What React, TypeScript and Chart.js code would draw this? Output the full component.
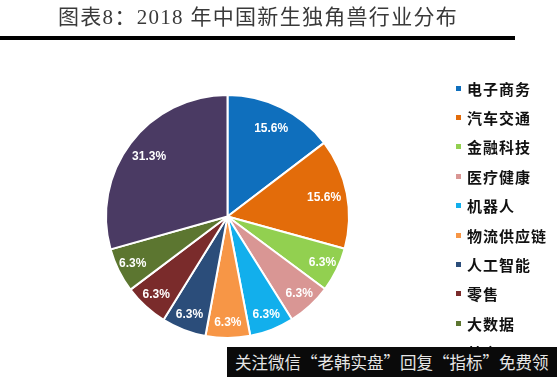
import React, { useEffect, useRef } from "react";
import { Chart, registerables } from "chart.js";

Chart.register(...registerables);

const TITLE = "图表8：2018 年中国新生独角兽行业分布";
const WATERMARK = "关注微信“老韩实盘”回复“指标”免费领";
const categories = ["电子商务", "汽车交通", "金融科技", "医疗健康", "机器人", "物流供应链", "人工智能", "零售", "大数据", "其它"];
const shares = [15.6, 15.6, 6.3, 6.3, 6.3, 6.3, 6.3, 6.3, 6.3, 31.3];
const colors = ["#0F6FBD", "#E36C0A", "#92D050", "#D99694", "#12AFEC", "#F79646", "#2B4D7A", "#7A2B2B", "#5C7630", "#4A3A63"];

const labelPlugin = {
  id: "sliceLabels",
  afterDatasetsDraw(chart: any) {
    const ctx = chart.ctx;
    const meta = chart.getDatasetMeta(0);
    const data = chart.data.datasets[0].data as number[];
    ctx.save();
    ctx.fillStyle = "#ffffff";
    ctx.font = "bold 12px 'Liberation Sans', Arial, sans-serif";
    ctx.textAlign = "center";
    ctx.textBaseline = "middle";
    meta.data.forEach((arc: any, i: number) => {
      const p = arc.getProps(["x", "y", "startAngle", "endAngle", "outerRadius"], true);
      const mid = (p.startAngle + p.endAngle) / 2;
      const frac = data[i] > 10 ? 0.81 : 0.87;
      const r = p.outerRadius * frac;
      const x = p.x + Math.cos(mid) * r;
      const y = p.y + Math.sin(mid) * r;
      ctx.fillText(data[i].toFixed(1) + "%", x, y);
    });
    ctx.restore();
  },
};

export default function App() {
  const ref = useRef<HTMLCanvasElement>(null);
  useEffect(() => {
    document.body.style.margin = "0";
    document.body.style.background = "#ffffff";
    const chart = new Chart(ref.current!, {
      type: "pie",
      data: {
        labels: categories,
        datasets: [
          {
            data: shares,
            backgroundColor: colors,
            borderColor: "#ffffff",
            borderWidth: 2,
          },
        ],
      },
      options: {
        responsive: false,
        animation: false,
        events: [],
        layout: { padding: { left: 105, top: 93, right: 207, bottom: 37 } },
        plugins: {
          legend: { display: false },
          tooltip: { enabled: false },
          title: { display: false },
        },
      },
      plugins: [labelPlugin],
    });
    return () => chart.destroy();
  }, []);

  return (
    <div style={{ position: "relative", width: 557, height: 377, overflow: "hidden", background: "#fff" }}>
      <canvas ref={ref} width={557} height={377} style={{ position: "absolute", left: 0, top: 0, width: 557, height: 377 }} />
      <div
        style={{
          position: "absolute",
          left: 58,
          top: 4,
          width: 400,
          fontFamily: "'Liberation Serif', 'Noto Sans CJK SC', serif",
          fontSize: 21,
          lineHeight: "26px",
          color: "#3a3a3a",
          whiteSpace: "nowrap",
          letterSpacing: 1.3,
        }}
      >
        {TITLE}
      </div>
      <div style={{ position: "absolute", left: 0, top: 36, width: 515, height: 4, background: "#000" }} />
      {categories.map((c, i) => (
        <div
          key={c}
          style={{
            position: "absolute",
            left: 456,
            top: 88 + i * 29.4 - 10,
            height: 20,
            display: "flex",
            alignItems: "center",
            whiteSpace: "nowrap",
          }}
        >
          <span style={{ display: "inline-block", width: 5, height: 5, background: colors[i], marginRight: 6 }} />
          <span
            style={{
              fontFamily: "'Noto Sans CJK SC', sans-serif",
              fontWeight: 700,
              fontSize: 15,
              color: "#111",
              letterSpacing: 1,
            }}
          >
            {c}
          </span>
        </div>
      ))}
      <div
        style={{
          position: "absolute",
          left: 227,
          top: 347,
          width: 330,
          height: 30,
          background: "#0a0a0a",
          color: "#e6e6e6",
          fontFamily: "'Noto Sans CJK SC', sans-serif",
          fontSize: 16.5,
          lineHeight: "30px",
          paddingLeft: 8,
          boxSizing: "border-box",
          whiteSpace: "nowrap",
        }}
      >
        {WATERMARK}
      </div>
    </div>
  );
}
